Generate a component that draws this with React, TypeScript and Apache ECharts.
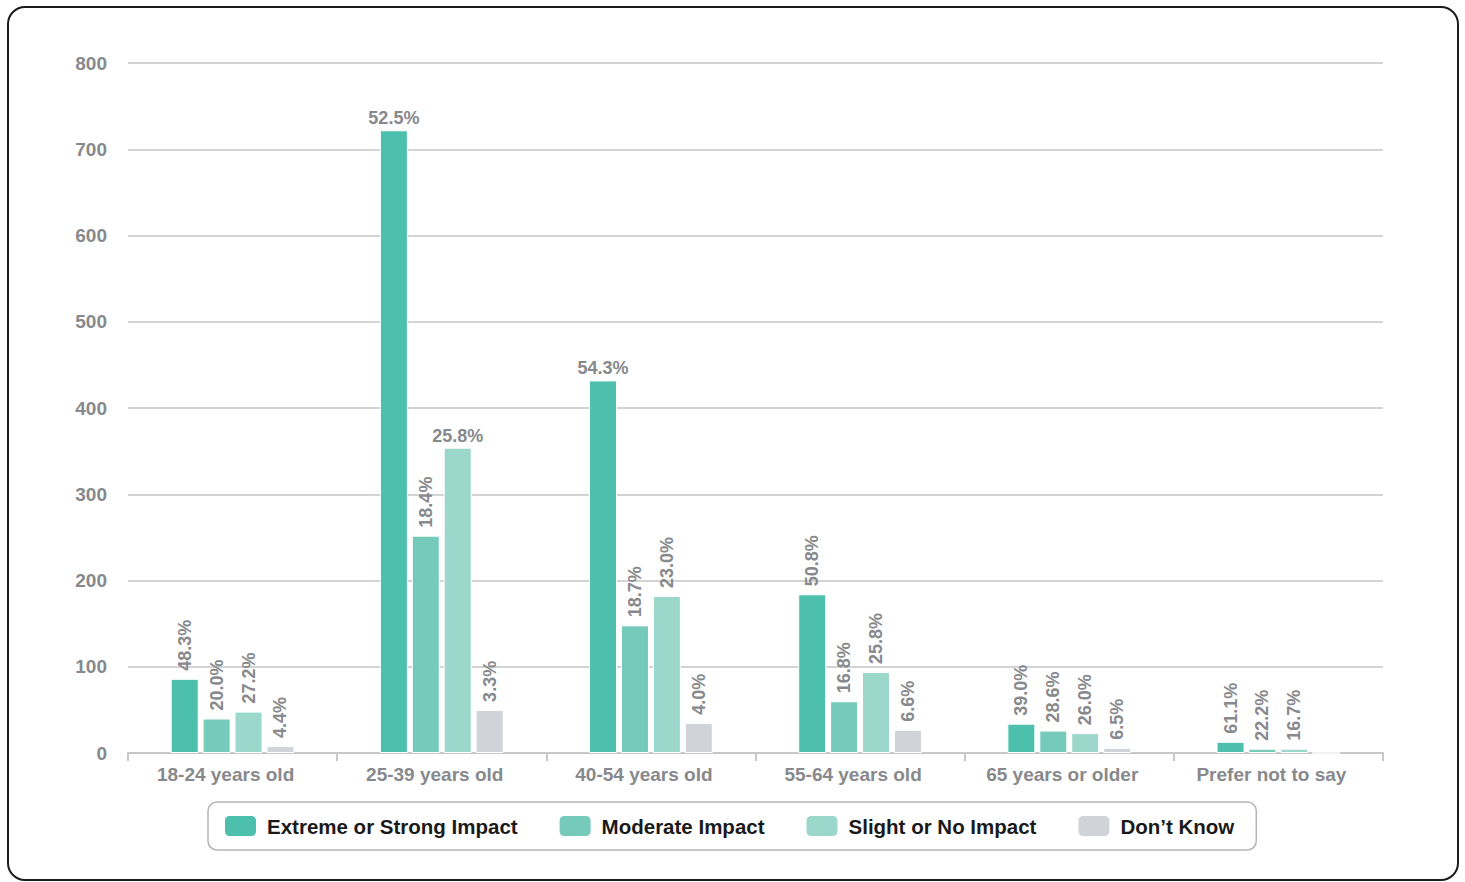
import React, { useEffect, useRef } from "react";
import * as echarts from "echarts";

const categories = [
  "18-24 years old",
  "25-39 years old",
  "40-54 years old",
  "55-64 years old",
  "65 years or older",
  "Prefer not to say",
];
const seriesNames = ["Extreme or Strong Impact", "Moderate Impact", "Slight or No Impact", "Don\u2019t Know"];
const extremeValues = [86, 722, 432, 184, 34, 13];
const moderateValues = [40, 252, 148, 60, 26, 5];
const slightValues = [48, 354, 182, 94, 23, 5];
const dontKnowValues = [8, 50, 35, 27, 6, 0];
const extremeLabels = ["48.3%", "52.5%", "54.3%", "50.8%", "39.0%", "61.1%"];
const moderateLabels = ["20.0%", "18.4%", "18.7%", "16.8%", "28.6%", "22.2%"];
const slightLabels = ["27.2%", "25.8%", "23.0%", "25.8%", "26.0%", "16.7%"];
const dontKnowLabels = ["4.4%", "3.3%", "4.0%", "6.6%", "6.5%", ""];
// which labels are drawn horizontally (others are rotated)
const extremeHorizontal = [false, true, true, false, false, false];
const moderateHorizontal = [false, false, false, false, false, false];
const slightHorizontal = [false, true, false, false, false, false];
const dontKnowHorizontal = [false, false, false, false, false, false];
const yTicks = [0, 100, 200, 300, 400, 500, 600, 700, 800];

const colors = ["#4cc0ad", "#76cab9", "#9bd7ca", "#d0d3d7"];
const LABEL_GRAY = "#87898c";
const FONT = "'Liberation Sans', Arial, sans-serif";

function buildSeries(name: string, values: number[], labels: string[], horiz: boolean[], color: string) {
  return {
    name,
    type: "bar",
    barWidth: 28,
    barGap: "14%",
    itemStyle: { color, borderColor: "#ffffff", borderWidth: 1 },
    data: values.map((v, i) => ({
      value: v,
      label: horiz[i]
        ? {
            show: labels[i] !== "",
            position: "top",
            rotate: 0,
            distance: 3,
            formatter: labels[i],
          }
        : {
            show: labels[i] !== "",
            position: "top",
            rotate: 90,
            align: "left",
            verticalAlign: "middle",
            distance: 8,
            formatter: labels[i],
          },
    })),
    label: {
      color: LABEL_GRAY,
      fontFamily: FONT,
      fontWeight: "bold",
      fontSize: 18,
    },
  };
}

export default function App() {
  const ref = useRef<HTMLDivElement>(null);
  useEffect(() => {
    if (!ref.current) return;
    const chart = echarts.init(ref.current, null, { renderer: "svg" });
    chart.setOption({
      animation: false,
      backgroundColor: "#ffffff",
      grid: { left: 128, right: 82, top: 63, bottom: 129, containLabel: false },
      legend: {
        data: seriesNames,
        left: 208,
        top: 802,
        icon: "roundRect",
        itemWidth: 33,
        itemHeight: 22,
        itemGap: 40,
        borderColor: "#b5b5b5",
        borderWidth: 1.5,
        borderRadius: 9,
        padding: [12, 22, 12, 15],
        selectedMode: false,
        textStyle: {
          color: "#1a1a1a",
          fontFamily: FONT,
          fontWeight: "bold",
          fontSize: 20.5,
          padding: [0, 0, 0, 5],
        },
      },
      xAxis: {
        type: "category",
        data: categories,
        axisLine: { show: true, lineStyle: { color: "#c8c8c8", width: 2 } },
        axisTick: { show: true, length: 8, lineStyle: { color: "#c8c8c8", width: 2 } },
        axisLabel: {
          color: LABEL_GRAY,
          fontFamily: FONT,
          fontWeight: "bold",
          fontSize: 19,
          margin: 12,
          padding: [0, 14, 0, 0],
        },
        splitLine: { show: false },
      },
      yAxis: {
        type: "value",
        min: yTicks[0],
        max: yTicks[yTicks.length - 1],
        interval: 100,
        axisLine: { show: false },
        axisTick: { show: false },
        axisLabel: {
          color: LABEL_GRAY,
          fontFamily: FONT,
          fontWeight: "bold",
          fontSize: 19,
          margin: 21,
          padding: [4, 0, 0, 0],
        },
        splitLine: { lineStyle: { color: "#d3d3d3", width: 2 } },
      },
      series: [
        buildSeries(seriesNames[0], extremeValues, extremeLabels, extremeHorizontal, colors[0]),
        buildSeries(seriesNames[1], moderateValues, moderateLabels, moderateHorizontal, colors[1]),
        buildSeries(seriesNames[2], slightValues, slightLabels, slightHorizontal, colors[2]),
        buildSeries(seriesNames[3], dontKnowValues, dontKnowLabels, dontKnowHorizontal, colors[3]),
      ],
    });
    return () => chart.dispose();
  }, []);

  return (
    <div style={{ position: "absolute", left: 0, top: 0, width: 1465, height: 882, background: "#fff" }}>
      <div ref={ref} style={{ position: "absolute", left: 0, top: 0, width: 1465, height: 882 }} />
      <div
        style={{
          position: "absolute",
          left: 7,
          top: 6,
          width: 1448,
          height: 871,
          border: "2px solid #1c1c1c",
          borderRadius: 18,
          pointerEvents: "none",
        }}
      />
    </div>
  );
}
